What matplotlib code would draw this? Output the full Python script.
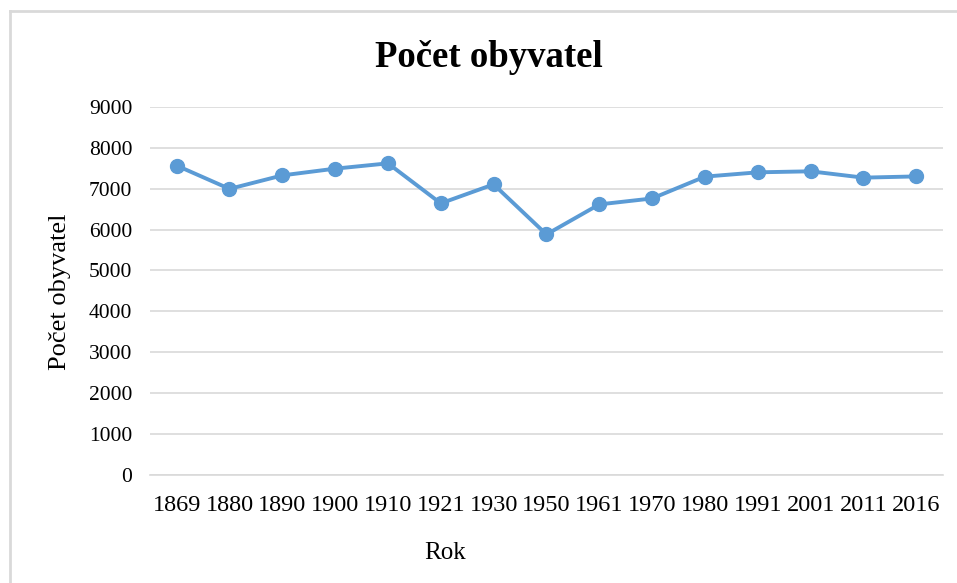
import matplotlib.pyplot as plt
from matplotlib.lines import Line2D

# Data
roky = ['1869', '1880', '1890', '1900', '1910', '1921', '1930', '1950',
        '1961', '1970', '1980', '1991', '2001', '2011', '2016']
obyvatel = [7565, 6995, 7325, 7490, 7620, 6640, 7105, 5880,
            6615, 6760, 7295, 7400, 7425, 7270, 7300]
y_ticks = list(range(0, 9001, 1000))

plt.rcParams['font.family'] = ['Liberation Serif', 'DejaVu Serif']

fig = plt.figure(figsize=(9.57, 5.83), dpi=100)
ax = fig.add_axes([0.157, 0.186, 0.828, 0.6305])

x = list(range(len(roky)))
ax.plot(x, obyvatel, color='#5B9BD5', linewidth=2.8, marker='o',
        markersize=10, solid_capstyle='round', zorder=3)

ax.set_xlim(-0.5, len(roky) - 0.5)
ax.set_ylim(0, 9000)
ax.set_yticks(y_ticks)
ax.set_xticks(x)
ax.set_xticklabels(roky)
ax.grid(axis='y', color='#d9d9d9', linewidth=1.2)
ax.set_axisbelow(True)
for s in ax.spines.values():
    s.set_visible(False)
ax.spines['bottom'].set_visible(True)
ax.spines['bottom'].set_color('#d9d9d9')
ax.spines['bottom'].set_linewidth(1.2)
ax.tick_params(length=0, colors='#000000')
ax.tick_params(axis='x', pad=15, labelsize=17.5)
ax.tick_params(axis='y', pad=13, labelsize=15.5)

fig.text(0.511, 0.901, 'Počet obyvatel', ha='center', va='center',
         fontsize=26.5, fontweight='bold')
fig.text(0.063, 0.5, 'Počet obyvatel', ha='center', va='center',
         rotation=90, fontsize=19)
fig.text(0.465, 0.051, 'Rok', ha='center', va='center', fontsize=18)

# light frame around the chart area
fig.add_artist(Line2D([9.5 / 957, 9.5 / 957], [0, 1 - 11 / 583],
                      transform=fig.transFigure, color='#d9d9d9', linewidth=2))
fig.add_artist(Line2D([9.5 / 957, 1], [1 - 11 / 583, 1 - 11 / 583],
                      transform=fig.transFigure, color='#d9d9d9', linewidth=2))

fig.savefig('out.png', dpi=100)
